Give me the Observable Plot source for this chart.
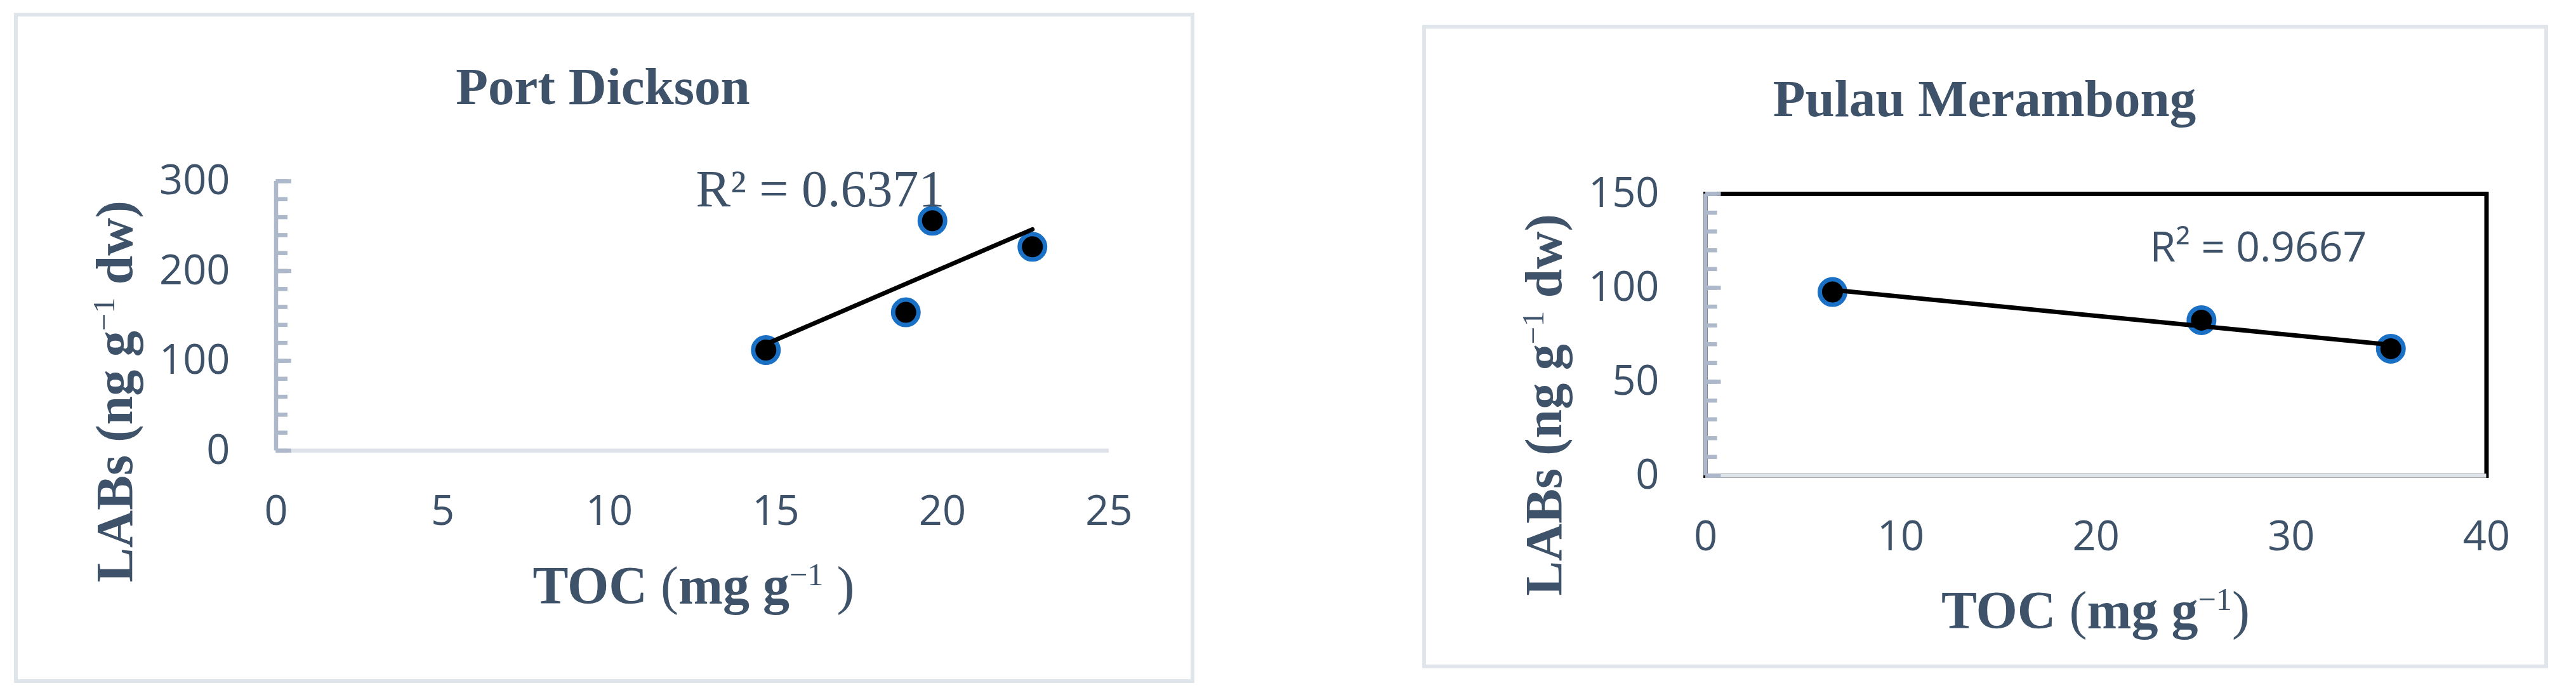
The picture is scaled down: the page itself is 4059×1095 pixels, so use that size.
<!DOCTYPE html>
<html>
<head>
<meta charset="utf-8">
<script src="https://cdn.jsdelivr.net/npm/d3@7"></script>
<script src="https://cdn.jsdelivr.net/npm/@observablehq/plot@0.6"></script>
<style>
  html, body { margin: 0; padding: 0; background: #fff; }
  #page { position: relative; width: 4059px; height: 1095px; overflow: hidden; background: #fff; }
  .box { position: absolute; box-sizing: border-box; border: 6.5px solid #dfe5eb; }
  .chart { position: absolute; top: 0; }
</style>
</head>
<body>
<div id="page"></div>
<script>
// ---------- data ----------
const pdTitle = "Port Dickson";
const pdTOC  = [14.7, 18.9, 19.7, 22.7];
const pdLABs = [112, 154, 256, 227];
const pdR2 = "R² = 0.6371";
const pdXTicks = [0, 5, 10, 15, 20, 25];
const pdYTicks = [0, 100, 200, 300];
const pdYMinor = [0, 20, 40, 60, 80, 100, 120, 140, 160, 180, 200, 220, 240, 260, 280, 300];

const pmTitle = "Pulau Merambong";
const pmTOC  = [6.5, 25.4, 35.1];
const pmLABs = [97.8, 82.8, 67.6];
const pmR2 = "R² = 0.9667";
const pmXTicks = [0, 10, 20, 30, 40];
const pmYTicks = [0, 50, 100, 150];
const pmYMinor = [0, 10, 20, 30, 40, 50, 60, 70, 80, 90, 100, 110, 120, 130, 140, 150];

// ---------- style ----------
const textColor = "#3e5269";
const axisColor = "#adb9ca";
const xAxisColor = "#dde3e9";
const blue = "#1a70c5";
const sans = "'Open Sans', 'Noto Sans', sans-serif";
const serif = "'Liberation Serif', 'Times New Roman', serif";

const page = document.getElementById("page");

function addBox(x1, y1, x2, y2) {
  const d = document.createElement("div");
  d.className = "box";
  d.style.left = (x1 - 3.25) + "px";
  d.style.top = (y1 - 3.25) + "px";
  d.style.width = (x2 - x1 + 6.5) + "px";
  d.style.height = (y2 - y1 + 6.5) + "px";
  page.appendChild(d);
}

function richText(svg, {x, y, rotate = 0, size, parts}) {
  const t = d3.select(svg).append("text")
    .attr("transform", `translate(${x},${y}) rotate(${rotate})`)
    .attr("text-anchor", "middle")
    .attr("font-family", serif)
    .attr("font-size", size)
    .attr("fill", textColor);
  let cur = 0;
  const raise = 0.34 * size;
  for (const p of parts) {
    const target = p.sup ? -raise : 0;
    t.append("tspan")
      .attr("dy", target - cur)
      .attr("font-weight", p.bold ? "bold" : "normal")
      .attr("font-size", p.sup ? 0.6 * size : size)
      .text(p.t);
    cur = target;
  }
}

function panel(cfg) {
  const rows = cfg.toc.map((v, i) => ({toc: v, labs: cfg.labs[i]}));
  const plotW = cfg.width - cfg.mL - cfg.mR;
  const marks = [];
  if (cfg.boxed) marks.push(Plot.frame({stroke: "#000", strokeWidth: 7}));
  marks.push(
    Plot.ruleY([0], {stroke: xAxisColor, strokeWidth: 6.5}),
    Plot.ruleY(cfg.yMinor, {y: d => d, stroke: axisColor, strokeWidth: 6.5, insetRight: plotW - 18.5}),
    Plot.ruleY(cfg.yTicks, {y: d => d, stroke: axisColor, strokeWidth: 6.5, insetRight: plotW - 24.5}),
    Plot.ruleX([0], {stroke: axisColor, strokeWidth: 6.5}),
    Plot.axisY({ticks: cfg.yTicks, tickSize: 0, tickPadding: cfg.yPad, fontSize: 65, fontFamily: sans, color: textColor, label: null}),
    Plot.axisX({ticks: cfg.xTicks, tickSize: 0, tickPadding: cfg.xPad, fontSize: 65, fontFamily: sans, color: textColor, label: null}),
    Plot.dot(rows, {x: "toc", y: "labs", r: 20, fill: "#000", stroke: blue, strokeWidth: 7}),
    Plot.linearRegressionY(rows, {x: "toc", y: "labs", ci: 0, stroke: "#000", strokeWidth: 7}),
    Plot.text([cfg.r2], {text: d => d, frameAnchor: "top-left", dx: cfg.r2dx, dy: cfg.r2dy,
      textAnchor: "start", lineAnchor: "bottom", fontSize: cfg.r2Size, fontFamily: cfg.r2Font, fill: textColor})
  );
  const svg = Plot.plot({
    width: cfg.width, height: 1095,
    marginLeft: cfg.mL, marginRight: cfg.mR, marginTop: cfg.mT, marginBottom: cfg.mB,
    x: {domain: cfg.xDomain},
    y: {domain: cfg.yDomain},
    style: {background: "none", overflow: "visible", fontFamily: sans},
    marks
  });
  const holder = document.createElement("div");
  holder.className = "chart";
  holder.style.left = cfg.left + "px";
  holder.style.width = cfg.width + "px";
  holder.appendChild(svg);
  page.appendChild(holder);

  // title
  d3.select(svg).append("text")
    .attr("x", cfg.titleX).attr("y", cfg.titleY)
    .attr("text-anchor", "middle")
    .attr("font-family", serif).attr("font-weight", "bold")
    .attr("font-size", 83).attr("fill", textColor)
    .text(cfg.title);
  // y label
  richText(svg, {x: cfg.yLabX, y: cfg.yLabY, rotate: -90, size: 82, parts: [
    {t: "LABs (ng g", bold: true}, {t: "−1", sup: true}, {t: " dw)", bold: true}
  ]});
  // x label
  richText(svg, {x: cfg.xLabX, y: cfg.xLabY, size: 84, parts: cfg.xLabParts});
}

addBox(25, 23, 1879, 1073);
addBox(2244, 42, 4012, 1050);

panel({
  left: 0, width: 2000, mL: 434.5, mR: 253, mT: 285, mB: 385.5,
  xDomain: [0, 25], yDomain: [0, 300],
  xTicks: pdXTicks, yTicks: pdYTicks, yMinor: pdYMinor,
  yPad: 72.5, xPad: 70.5,
  toc: pdTOC, labs: pdLABs,
  r2: pdR2, r2Font: serif, r2Size: 82, r2dx: 661.5, r2dy: 39,
  boxed: false,
  title: pdTitle, titleX: 950, titleY: 164,
  yLabX: 208, yLabY: 617,
  xLabX: 1093, xLabY: 951,
  xLabParts: [{t: "TOC ", bold: true}, {t: "("}, {t: "mg g", bold: true}, {t: "−1", sup: true}, {t: " )"}]
});

panel({
  left: 2000, width: 2059, mL: 687, mR: 141.5, mT: 305, mB: 346,
  xDomain: [0, 40], yDomain: [0, 150],
  xTicks: pmXTicks, yTicks: pmYTicks, yMinor: pmYMinor,
  yPad: 73, xPad: 71,
  toc: pmTOC, labs: pmLABs,
  r2: pmR2, r2Font: sans, r2Size: 66, r2dx: 700, r2dy: 106,
  boxed: true,
  title: pmTitle, titleX: 1127, titleY: 183,
  yLabX: 460, yLabY: 638,
  xLabX: 1302, xLabY: 990,
  xLabParts: [{t: "TOC ", bold: true}, {t: "("}, {t: "mg g", bold: true}, {t: "−1", sup: true}, {t: ")"}]
});
</script>
</body>
</html>
